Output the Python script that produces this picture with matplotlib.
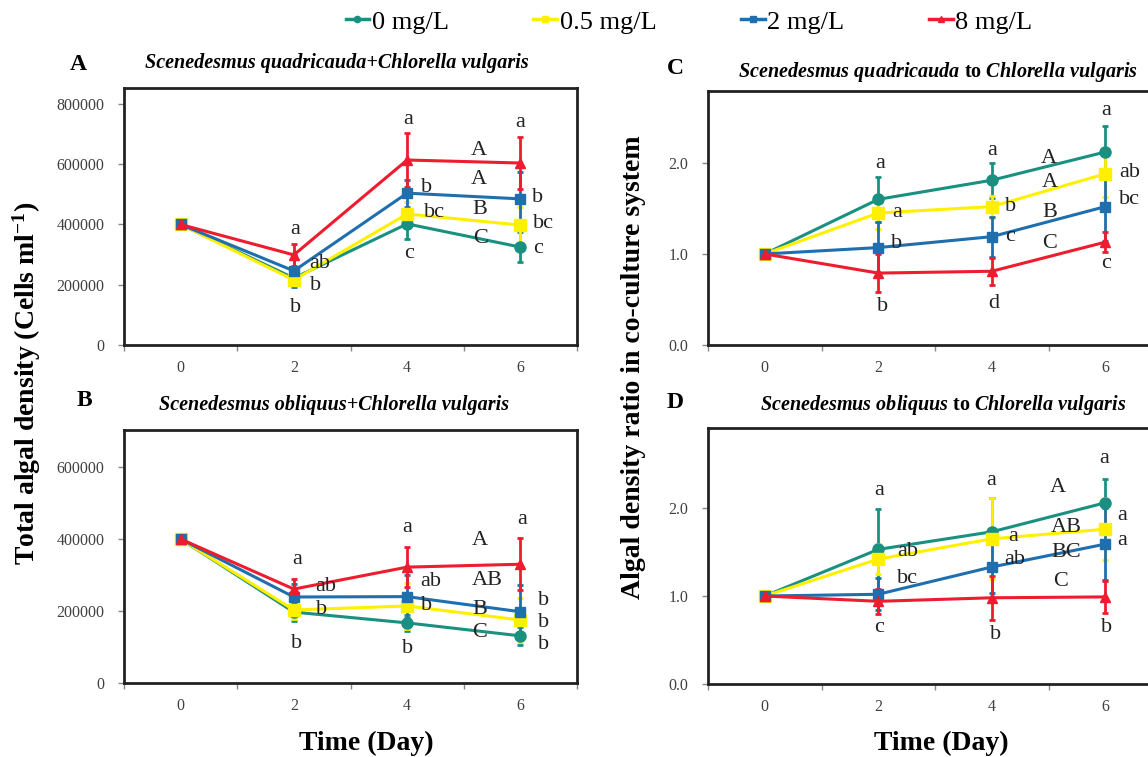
import matplotlib
matplotlib.use("Agg")
import matplotlib.pyplot as plt
from matplotlib.lines import Line2D
from matplotlib.ticker import FixedLocator, NullFormatter, FixedFormatter

plt.rcParams['font.family'] = 'Liberation Serif'
plt.rcParams['mathtext.fontset'] = 'custom'
plt.rcParams['mathtext.it'] = 'Liberation Serif:italic:bold'
plt.rcParams['mathtext.rm'] = 'Liberation Serif:bold'
plt.rcParams['mathtext.default'] = 'regular'

days = [0, 2, 4, 6]
conc_labels = ["0 mg/L", "0.5 mg/L", "2 mg/L", "8 mg/L"]
colors = ["#1a9080", "#fff000", "#1f6fae", "#ee1c2e"]
markers = ["o", "s", "s", "^"]
msizes = [8, 9, 6.5, 7.5]

# panel A: total density, S. quadricauda + C. vulgaris
a_means = [[400000, 222000, 402000, 325000],
           [400000, 216000, 435000, 398000],
           [400000, 246000, 504000, 485000],
           [400000, 299000, 614000, 604000]]
a_errs = [[0, 15000, 50000, 50000],
          [0, 15000, 40000, 60000],
          [0, 52000, 45000, 90000],
          [0, 37000, 90000, 85000]]
a_letters = [(2.03, 382000, "a"), (2.45, 272000, "ab"), (2.38, 199000, "b"),
             (2.03, 126000, "b"), (4.02, 750000, "a"), (4.35, 524000, "b"),
             (4.48, 441000, "bc"), (4.04, 305000, "c"), (5.26, 647000, "A"),
             (5.26, 548000, "A"), (5.29, 451000, "B"), (5.29, 352000, "C"),
             (6.0, 740000, "a"), (6.31, 488000, "b"), (6.41, 402000, "bc"),
             (6.31, 319000, "c")]

# panel B: total density, S. obliquus + C. vulgaris
b_means = [[400000, 197000, 167000, 131000],
           [400000, 203000, 214000, 175000],
           [400000, 239000, 240000, 198000],
           [400000, 261000, 322000, 330000]]
b_errs = [[0, 25000, 23000, 25000],
          [0, 26000, 65000, 62000],
          [0, 35000, 60000, 75000],
          [0, 28000, 55000, 72000]]
b_letters = [(2.05, 342000, "a"), (2.56, 267000, "ab"), (2.48, 205000, "b"),
             (2.05, 111000, "b"), (4.0, 433000, "a"), (4.42, 283000, "ab"),
             (4.35, 214000, "b"), (4.0, 97000, "b"), (5.28, 397000, "A"),
             (5.41, 286000, "AB"), (5.29, 203000, "B"), (5.28, 139000, "C"),
             (6.04, 453000, "a"), (6.41, 228000, "b"), (6.41, 167000, "b"),
             (6.41, 106000, "b")]

# panel C: ratio S. quadricauda to C. vulgaris
c_means = [[1.0, 1.60, 1.81, 2.12],
           [1.0, 1.45, 1.52, 1.88],
           [1.0, 1.07, 1.19, 1.52],
           [1.0, 0.79, 0.81, 1.13]]
c_errs = [[0, 0.25, 0.19, 0.29],
          [0, 0.18, 0.12, 0.25],
          [0, 0.28, 0.22, 0.38],
          [0, 0.21, 0.15, 0.11]]
c_letters = [(2.04, 1.99, "a"), (2.33, 1.46, "a"), (2.33, 1.11, "b"),
             (2.07, 0.42, "b"), (4.01, 2.14, "a"), (4.33, 1.52, "b"),
             (4.33, 1.19, "c"), (4.03, 0.46, "d"), (5.01, 2.05, "A"),
             (5.02, 1.79, "A"), (5.02, 1.45, "B"), (5.02, 1.12, "C"),
             (6.01, 2.58, "a"), (6.43, 1.90, "ab"), (6.43, 1.60, "bc"),
             (6.01, 0.89, "c")]

# panel D: ratio S. obliquus to C. vulgaris
d_means = [[1.0, 1.53, 1.73, 2.06],
           [1.0, 1.42, 1.65, 1.76],
           [1.0, 1.02, 1.33, 1.59],
           [1.0, 0.94, 0.98, 0.99]]
d_errs = [[0, 0.46, 0.38, 0.27],
          [0, 0.17, 0.46, 0.35],
          [0, 0.18, 0.30, 0.41],
          [0, 0.14, 0.25, 0.18]]
d_letters = [(2.01, 2.20, "a"), (2.52, 1.51, "ab"), (2.52, 1.20, "bc"),
             (2.01, 0.64, "c"), (3.99, 2.31, "a"), (4.37, 1.68, "a"),
             (4.41, 1.41, "ab"), (4.06, 0.56, "b"), (5.17, 2.23, "A"),
             (5.32, 1.78, "AB"), (5.32, 1.50, "BC"), (5.22, 1.17, "C"),
             (5.99, 2.56, "a"), (6.30, 1.92, "a"), (6.30, 1.63, "a"),
             (6.02, 0.64, "b")]

W, H = 1148, 757
fig = plt.figure(figsize=(W / 100, H / 100), dpi=100)


def px_axes(x0, y0, x1, y1):
    return fig.add_axes([x0 / W, 1 - y1 / H, (x1 - x0) / W, (y1 - y0) / H])


def draw_panel(ax, means, errs, letters, ymax, yticks, ylabels):
    for mean, err, c, m, ms in zip(means, errs, colors, markers, msizes):
        ax.errorbar(days, mean, yerr=err, color=c, marker=m, ms=ms, lw=2.2,
                    elinewidth=2, capsize=2.5, capthick=2, clip_on=False)
    for x, y, t in letters:
        ax.text(x, y, t, fontsize=16, ha="center", va="center", color="#222222")
    ax.set_xlim(-1, 7)
    ax.set_ylim(0, ymax)
    ax.xaxis.set_major_locator(FixedLocator([-1, 1, 3, 5, 7]))
    ax.xaxis.set_major_formatter(NullFormatter())
    ax.xaxis.set_minor_locator(FixedLocator(days))
    ax.xaxis.set_minor_formatter(FixedFormatter([str(d) for d in days]))
    ax.tick_params(axis="x", which="major", length=4, width=1, color="#888888")
    ax.tick_params(axis="x", which="minor", length=0, pad=11, labelsize=11.5,
                   labelcolor="#404040")
    ax.yaxis.set_major_locator(FixedLocator(yticks))
    ax.yaxis.set_major_formatter(FixedFormatter(ylabels))
    ax.tick_params(axis="y", length=4, width=1, color="#888888", pad=10,
                   labelsize=11.5, labelcolor="#404040")
    for s in ax.spines.values():
        s.set_linewidth(2)
        s.set_color("#222222")


axA = px_axes(124, 88, 577, 345)
draw_panel(axA, a_means, a_errs, a_letters, 853000,
           [0, 200000, 400000, 600000, 800000],
           ["0", "200000", "400000", "600000", "800000"])
axB = px_axes(124, 430, 577, 683)
draw_panel(axB, b_means, b_errs, b_letters, 703000,
           [0, 200000, 400000, 600000],
           ["0", "200000", "400000", "600000"])
axC = px_axes(708, 91, 1162, 345)
draw_panel(axC, c_means, c_errs, c_letters, 2.79, [0, 1, 2], ["0.0", "1.0", "2.0"])
axD = px_axes(708, 428, 1162, 684)
draw_panel(axD, d_means, d_errs, d_letters, 2.91, [0, 1, 2], ["0.0", "1.0", "2.0"])

# titles and panel letters
axA.text(0.470, 1.097, "Scenedesmus quadricauda+Chlorella vulgaris", transform=axA.transAxes,
         ha="center", va="center", fontsize=14.5, fontweight="bold", fontstyle="italic")
axB.text(0.463, 1.099, "Scenedesmus obliquus+Chlorella vulgaris", transform=axB.transAxes,
         ha="center", va="center", fontsize=14.5, fontweight="bold", fontstyle="italic")
axC.text(0.506, 1.075, r"$\mathit{Scenedesmus\ quadricauda}$ to $\mathit{Chlorella\ vulgaris}$",
         transform=axC.transAxes, ha="center", va="center", fontsize=14.5, fontweight="bold")
axD.text(0.517, 1.090, r"$\mathit{Scenedesmus\ obliquus}$ to $\mathit{Chlorella\ vulgaris}$",
         transform=axD.transAxes, ha="center", va="center", fontsize=14.5, fontweight="bold")

for lx, ly, letter in [(78, 64, "A"), (84, 401, "B"), (675, 68, "C"), (675, 403, "D")]:
    fig.text(lx / W, 1 - ly / H, letter, fontsize=17, fontweight="bold",
             ha="center", va="center")

fig.text(27 / W, 1 - 383 / H, r"Total algal density (Cells ml$^{-1}$)", rotation=90,
         fontsize=20, fontweight="bold", ha="center", va="center")
fig.text(634 / W, 1 - 367 / H, "Algal density ratio in co-culture system", rotation=90,
         fontsize=20, fontweight="bold", ha="center", va="center")
fig.text(366 / W, 1 - 743 / H, "Time (Day)", fontsize=20, fontweight="bold",
         ha="center", va="center")
fig.text(941 / W, 1 - 743 / H, "Time (Day)", fontsize=20, fontweight="bold",
         ha="center", va="center")

handles = [Line2D([], [], color=c, marker=m, ms=4.5, lw=2.5)
           for c, m in zip(colors, markers)]
fig.legend(handles, conc_labels, loc="center", bbox_to_anchor=(689 / W, 1 - 22 / H),
           ncol=4, frameon=False, fontsize=19, handlelength=0.9, handletextpad=0.1,
           columnspacing=3.2, borderpad=0)

fig.savefig("out.png", dpi=100)
